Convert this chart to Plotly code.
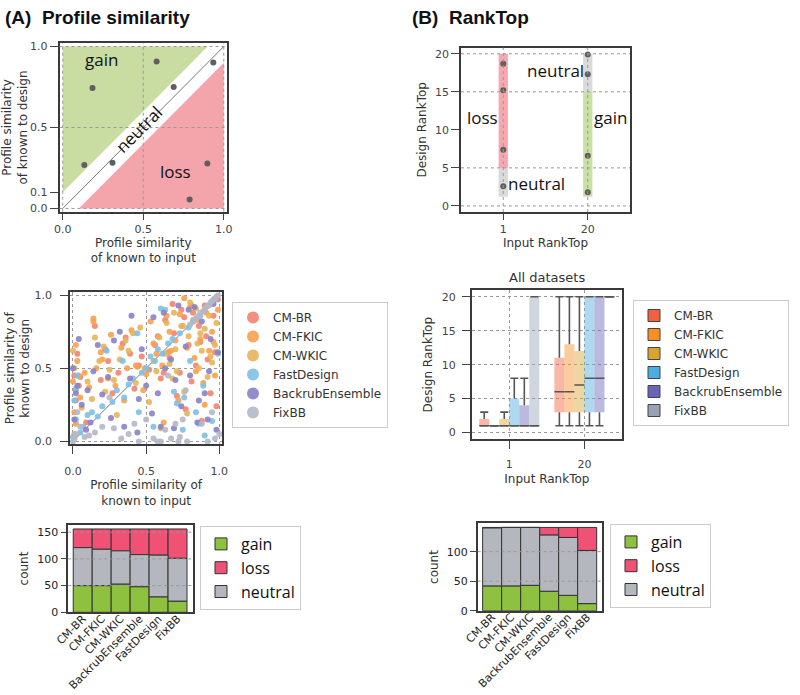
import plotly.graph_objects as go
import numpy as np

# ---- datos ----
METHODS = ["CM-BR", "CM-FKIC", "CM-WKIC", "FastDesign", "BackrubEnsemble", "FixBB"]
BAR_METHODS = ["CM-BR", "CM-FKIC", "CM-WKIC", "BackrubEnsemble", "FastDesign", "FixBB"]

# panel A arriba: ejemplo
NEUTRAL_BAND = 0.1
ex_input = [0.185, 0.583, 0.935, 0.689, 0.134, 0.309, 0.898, 0.788]
ex_design = [0.744, 0.907, 0.901, 0.750, 0.269, 0.283, 0.277, 0.055]

# panel B arriba: ejemplo
rt_region_input = ["1", "1", "20", "20"]
rt_region_kind = ["loss", "neutral", "neutral", "gain"]
rt_region_lo = [5, 1.2, 15, 1.2]
rt_region_hi = [20, 5, 20, 15]
rt_pts_input = ["1", "1", "1", "1", "20", "20", "20", "20"]
rt_pts_design = [18.7, 15.2, 7.4, 2.6, 19.9, 17.3, 6.6, 1.8]

# dispersion (similitud de perfil)
cmbr_x = [0.01, 0.02, 0.04, 0.03, 0.09, 0.15, 0.19, 0.22, 0.27, 0.31, 0.36, 0.39, 0.42, 0.47, 0.52, 0.56, 0.6, 0.63, 0.66, 0.69,
          0.71, 0.74, 0.77, 0.79, 0.82, 0.84, 0.86, 0.88, 0.9, 0.92, 0.94, 0.96, 0.98, 0.99, 0.58, 0.65, 0.73, 0.81, 0.87, 0.45,
          0.05, 0.24, 0.34, 0.76, 0.91, 0.97, 0.68, 0.62]
cmbr_y = [0.45, 0.28, 0.38, 0.6, 0.13, 0.79, 0.42, 0.63, 0.33, 0.47, 0.71, 0.6, 0.36, 0.58, 0.49, 0.66, 0.43, 0.83, 0.57, 0.74,
          0.31, 0.9, 0.22, 0.66, 0.88, 0.52, 0.79, 0.14, 0.93, 0.56, 0.33, 0.86, 0.24, 0.97, 0.72, 0.61, 0.47, 0.41, 0.68, 0.52,
          0.44, 0.55, 0.67, 0.85, 0.72, 0.61, 0.94, 0.47]
fkic_x = [0.0, 0.01, 0.03, 0.02, 0.05, 0.08, 0.11, 0.14, 0.16, 0.2, 0.24, 0.26, 0.29, 0.33, 0.37, 0.4, 0.44, 0.48, 0.5, 0.53,
          0.57, 0.61, 0.64, 0.67, 0.7, 0.72, 0.75, 0.78, 0.8, 0.83, 0.85, 0.87, 0.89, 0.91, 0.93, 0.95, 0.97, 0.99, 0.62, 0.76,
          0.84, 0.9, 0.35, 0.55, 0.14, 0.19, 0.43, 0.66, 0.73, 0.81, 0.96, 0.02]
fkic_y = [0.41, 0.2, 0.55, 0.66, 0.3, 0.47, 0.37, 0.84, 0.5, 0.56, 0.43, 0.73, 0.38, 0.64, 0.5, 0.76, 0.51, 0.35, 0.46, 0.82,
          0.6, 0.52, 0.86, 0.62, 0.69, 0.28, 0.79, 0.64, 0.92, 0.57, 0.83, 0.7, 0.4, 0.88, 0.62, 0.75, 0.45, 0.9, 0.13, 0.98,
          0.48, 0.25, 0.28, 0.67, 0.82, 0.61, 0.52, 0.75, 0.87, 0.93, 0.68, 0.12]
wkic_x = [0.0, 0.02, 0.01, 0.04, 0.06, 0.1, 0.13, 0.15, 0.18, 0.21, 0.25, 0.28, 0.32, 0.36, 0.41, 0.43, 0.46, 0.49, 0.52, 0.55,
          0.59, 0.63, 0.66, 0.69, 0.71, 0.74, 0.76, 0.79, 0.82, 0.84, 0.86, 0.88, 0.9, 0.93, 0.95, 0.97, 0.98, 0.6, 0.68, 0.78,
          0.85, 0.92, 0.3, 0.22, 0.01, 0.38, 0.57, 0.64, 0.8, 0.87, 0.94, 0.7]
wkic_y = [0.62, 0.35, 0.05, 0.45, 0.23, 0.41, 0.29, 0.71, 0.55, 0.65, 0.49, 0.42, 0.56, 0.69, 0.74, 0.4, 0.78, 0.5, 0.27, 0.55,
          0.71, 0.6, 0.53, 0.88, 0.48, 0.79, 0.34, 0.72, 0.83, 0.91, 0.5, 0.62, 0.77, 0.86, 0.54, 0.66, 0.81, 0.09, 0.43, 0.19,
          0.67, 0.44, 0.18, 0.34, 0.5, 0.62, 0.48, 0.81, 0.95, 0.74, 0.58, 0.63]
fd_x = [0.0, 0.01, 0.02, 0.03, 0.05, 0.07, 0.1, 0.13, 0.17, 0.2, 0.23, 0.27, 0.3, 0.34, 0.38, 0.41, 0.45, 0.5, 0.53, 0.56,
        0.58, 0.61, 0.63, 0.65, 0.68, 0.71, 0.73, 0.76, 0.79, 0.82, 0.84, 0.87, 0.89, 0.92, 0.95, 0.97, 0.99, 0.55, 0.75, 0.9,
        0.35, 0.44, 0.8, 0.47, 0.6, 0.86, 0.02, 0.69]
fd_y = [0.03, 0.28, 0.15, 0.45, 0.06, 0.1, 0.18, 0.2, 0.17, 0.24, 0.62, 0.27, 0.35, 0.55, 0.39, 0.43, 0.2, 0.5, 0.58, 0.55,
        0.63, 0.6, 0.9, 0.67, 0.7, 0.26, 0.74, 0.3, 0.78, 0.82, 0.2, 0.86, 0.38, 0.93, 0.14, 0.97, 0.6, 0.1, 0.08, 0.04,
        0.3, 0.74, 0.55, 0.47, 0.91, 0.12, 0.36, 0.34]
br_x = [0.0, 0.01, 0.02, 0.03, 0.04, 0.06, 0.09, 0.12, 0.14, 0.17, 0.2, 0.24, 0.28, 0.32, 0.35, 0.39, 0.4, 0.44, 0.47, 0.5,
        0.54, 0.58, 0.6, 0.63, 0.67, 0.69, 0.72, 0.74, 0.77, 0.8, 0.83, 0.85, 0.88, 0.9, 0.92, 0.94, 0.96, 0.98, 0.99, 0.7,
        0.86, 0.55, 0.26, 0.62, 0.79, 0.93, 0.45, 0.1]
br_y = [0.5, 0.15, 0.33, 0.38, 0.7, 0.25, 0.08, 0.13, 0.48, 0.66, 0.32, 0.44, 0.69, 0.75, 0.1, 0.43, 0.86, 0.06, 0.63, 0.38,
        0.19, 0.33, 0.1, 0.5, 0.56, 0.09, 0.93, 0.24, 0.65, 0.45, 0.92, 0.13, 0.82, 0.33, 0.15, 0.7, 0.94, 0.08, 0.61, 0.42,
        0.28, 0.85, 0.16, 0.88, 0.9, 0.48, 0.29, 0.35]
fx_x = [0.0, 0.01, 0.02, 0.03, 0.05, 0.08, 0.11, 0.15, 0.2, 0.28, 0.33, 0.38, 0.45, 0.5, 0.55, 0.6, 0.63, 0.67, 0.7, 0.73,
        0.75, 0.78, 0.8, 0.82, 0.84, 0.86, 0.87, 0.88, 0.89, 0.9, 0.91, 0.92, 0.93, 0.94, 0.95, 0.96, 0.97, 0.98, 0.99, 1.0,
        0.42, 0.25, 0.65, 0.77, 0.95, 0.83, 0.85, 0.97, 0.58, 0.72]
fx_y = [0.0, 0.02, 0.05, 0.2, 0.1, 0.03, 0.04, 0.06, 0.1, 0.09, 0.02, 0.05, 0.0, 0.15, 0.02, 0.0, 0.08, 0.02, 0.12, 0.03,
        0.15, 0.0, 0.8, 0.82, 0.84, 0.86, 0.88, 0.12, 0.89, 0.9, 0.92, 0.0, 0.93, 0.95, 0.96, 0.97, 0.02, 0.99, 1.0, 0.05,
        0.12, 0.3, 0.45, 0.35, 0.2, 0.83, 0.85, 0.98, 0.0, 0.0]

# cajas RankTop (orden: input "1" luego "20", metodos en orden METHODS)
box_inputs = ["1", "20"]
box_lo = [1, 1, 1, 1, 1, 1, 1, 1, 1, 1, 1, 20]
box_q1 = [1, 1, 1, 1, 1, 1, 3, 3, 3, 3, 3, 20]
box_med = [1, 1, 1, 1, 1, 1, 6, 6, 7, 8, 8, 20]
box_q3 = [2, 1, 2, 5, 4, 20, 11, 13, 12, 20, 20, 20]
box_hi = [3, 1, 3, 8, 8, 20, 20, 20, 20, 20, 20, 20]

# barras apiladas
ps_gain = [50, 50, 53, 48, 29, 21]
ps_neutral = [71, 68, 62, 60, 78, 80]
ps_loss = [35, 38, 41, 48, 49, 55]
rt_gain = [42, 42, 43, 33, 26, 12]
rt_neutral = [98, 99, 98, 95, 98, 90]
rt_loss = [1, 0, 0, 13, 17, 39]

# ---- estilos ----
SCAT_COL = {"CM-BR": "#f4836f", "CM-FKIC": "#f9a04f", "CM-WKIC": "#e5b558", "FastDesign": "#7ec0e6",
            "BackrubEnsemble": "#8882c6", "FixBB": "#b3b8c5"}
BOX_COL = {"CM-BR": "#f2603f", "CM-FKIC": "#f98e23", "CM-WKIC": "#d9a42e", "FastDesign": "#4aaee0",
           "BackrubEnsemble": "#6a64b8", "FixBB": "#97a3b3"}
KIND_COL = {"gain": "#8dc13f", "loss": "#f05276", "neutral": "#b4b7bd"}
REGION_COL = {"gain": "#a8cc6a", "loss": "#ef6f7d", "neutral": "#c2c2c2"}
FONT = "DejaVu Sans"
TXT = "Open Sans"
W, H = 800, 695


def px(x):
    return x / W


def py(y):
    return 1 - y / H


def eje(domain, rng, **kw):
    d = dict(domain=domain, range=rng, showline=True, mirror=True, linecolor="#3a3a3a", linewidth=1.6,
             ticks="outside", ticklen=6, tickwidth=1.2, tickcolor="#444", automargin=False,
             tickfont=dict(family=FONT, size=11, color="#444"), showgrid=False, zeroline=False,
             title_font=dict(family=FONT, size=12, color="#333"))
    d.update(kw)
    return d


fig = go.Figure()
shapes = []
annots = []
DOT = dict(color="#999", width=1, dash="dot")

# ---------- (A) arriba ----------
t = NEUTRAL_BAND
shapes.append(dict(type="path", xref="x", yref="y", layer="below", line_width=0, fillcolor="#c9dca1",
                   path=f"M 0,{t} L 0,1 L {1 - t},1 Z"))
shapes.append(dict(type="path", xref="x", yref="y", layer="below", line_width=0, fillcolor="#f4a5ac",
                   path=f"M {t},0 L 1,0 L 1,{1 - t} Z"))
for v in [0, 0.5, 1]:
    shapes.append(dict(type="line", xref="x", yref="y domain", x0=v, x1=v, y0=0, y1=1, layer="above", line=DOT))
    shapes.append(dict(type="line", xref="x domain", yref="y", x0=0, x1=1, y0=v, y1=v, layer="above", line=DOT))
fig.add_trace(go.Scatter(x=[0, 1], y=[0, 1], mode="lines", line=dict(color="#777", width=1),
                         xaxis="x", yaxis="y", showlegend=False, hoverinfo="skip"))
fig.add_trace(go.Scatter(x=ex_input, y=ex_design, mode="markers", marker=dict(color="#5f5f5f", size=6),
                         xaxis="x", yaxis="y", showlegend=False))
annots += [
    dict(x=0.24, y=0.92, xref="x", yref="y", text="gain", showarrow=False, font=dict(family=TXT, size=17, color="#111")),
    dict(x=0.70, y=0.23, xref="x", yref="y", text="loss", showarrow=False, font=dict(family=TXT, size=17, color="#111")),
    dict(x=0.47, y=0.49, xref="x", yref="y", text="neutral", textangle=-45, showarrow=False,
         font=dict(family=TXT, size=17, color="#111")),
]

# ---------- (B) arriba ----------
fig.add_trace(go.Bar(x=rt_region_input, base=rt_region_lo,
                     y=list(np.array(rt_region_hi) - np.array(rt_region_lo)), width=0.11,
                     marker=dict(color=[REGION_COL[k] for k in rt_region_kind], line_width=0), opacity=0.6,
                     xaxis="x2", yaxis="y2", showlegend=False))
fig.add_trace(go.Scatter(x=rt_pts_input, y=rt_pts_design, mode="markers", marker=dict(color="#5f5f5f", size=6),
                         xaxis="x2", yaxis="y2", showlegend=False))
for v in [0, 1]:
    shapes.append(dict(type="line", xref="x2", yref="y2 domain", x0=v, x1=v, y0=0, y1=1, layer="above", line=DOT))
for v in [0, 5, 15, 20]:
    shapes.append(dict(type="line", xref="x2 domain", yref="y2", x0=0, x1=1, y0=v, y1=v, layer="above", line=DOT))
annots += [
    dict(x=-0.25, y=11.6, xref="x2", yref="y2", text="loss", showarrow=False, font=dict(family=TXT, size=17, color="#111")),
    dict(x=1.27, y=11.6, xref="x2", yref="y2", text="gain", showarrow=False, font=dict(family=TXT, size=17, color="#111")),
    dict(x=0.39, y=3.0, xref="x2", yref="y2", text="neutral", showarrow=False, font=dict(family=TXT, size=17, color="#111")),
    dict(x=0.62, y=17.8, xref="x2", yref="y2", text="neutral", showarrow=False, font=dict(family=TXT, size=17, color="#111")),
]

# ---------- dispersion ----------
scat = {"CM-BR": (cmbr_x, cmbr_y), "CM-FKIC": (fkic_x, fkic_y), "CM-WKIC": (wkic_x, wkic_y),
        "FastDesign": (fd_x, fd_y), "BackrubEnsemble": (br_x, br_y), "FixBB": (fx_x, fx_y)}
fig.add_trace(go.Scatter(x=[0, 1], y=[0, 1], mode="lines", line=dict(color="#777", width=1),
                         xaxis="x3", yaxis="y3", showlegend=False, hoverinfo="skip"))
for m in METHODS:
    xs, ys = scat[m]
    fig.add_trace(go.Scatter(x=xs, y=ys, mode="markers", name=m, legend="legend",
                             marker=dict(color=SCAT_COL[m], size=6, opacity=0.9),
                             xaxis="x3", yaxis="y3"))

# ---------- cajas ----------
n = len(METHODS)
w = 0.8 / n
wx, wy = [], []
for k in range(len(box_q1)):
    i, j = divmod(k, n)
    xc = i + (j - (n - 1) / 2) * w
    m = METHODS[j]
    if box_q3[k] > box_q1[k]:
        fig.add_trace(go.Bar(x=[xc], base=[box_q1[k]], y=[box_q3[k] - box_q1[k]], width=w,
                             marker=dict(color=BOX_COL[m], line_width=0), opacity=0.45,
                             xaxis="x4", yaxis="y4", showlegend=False))
    cap = 0.4 * w
    wx += [xc, xc, None, xc, xc, None]
    wy += [box_q3[k], box_hi[k], None, box_q1[k], box_lo[k], None]
    wx += [xc - cap, xc + cap, None, xc - cap, xc + cap, None]
    wy += [box_hi[k], box_hi[k], None, box_lo[k], box_lo[k], None]
    wx += [xc - w / 2, xc + w / 2, None]
    wy += [box_med[k], box_med[k], None]
fig.add_trace(go.Scatter(x=wx, y=wy, mode="lines", line=dict(color="#555", width=1.6),
                         xaxis="x4", yaxis="y4", showlegend=False, hoverinfo="skip"))
for m in METHODS:
    fig.add_trace(go.Bar(x=[None], y=[None], name=m, legend="legend2",
                         marker=dict(color=BOX_COL[m], line=dict(color="#444", width=1)),
                         xaxis="x4", yaxis="y4"))


# ---------- barras apiladas ----------
def apiladas(gain, neutral, loss, xa, ya, leg):
    g = np.array(gain)
    nn = np.array(neutral)
    parts = [("gain", g, np.zeros_like(g)), ("loss", np.array(loss), g + nn), ("neutral", nn, g)]
    for name, vals, base in parts:
        fig.add_trace(go.Bar(x=BAR_METHODS, y=vals, base=base, width=1, name=name, legend=leg,
                             marker=dict(color=KIND_COL[name], line=dict(color="#333", width=1)),
                             xaxis=xa, yaxis=ya))


apiladas(ps_gain, ps_neutral, ps_loss, "x5", "y5", "legend3")
apiladas(rt_gain, rt_neutral, rt_loss, "x6", "y6", "legend4")
for v in [50, 100, 150]:
    shapes.append(dict(type="line", xref="x5 domain", yref="y5", x0=0, x1=1, y0=v, y1=v, layer="above", line=DOT))
for v in [50, 100]:
    shapes.append(dict(type="line", xref="x6 domain", yref="y6", x0=0, x1=1, y0=v, y1=v, layer="above", line=DOT))

# ---------- titulos ----------
annots += [
    dict(x=px(3), y=py(17), xref="paper", yref="paper", xanchor="left", yanchor="middle", showarrow=False,
         text="<b>(A)  Profile similarity</b>", font=dict(family="Liberation Sans", size=19, color="#111")),
    dict(x=px(410), y=py(17), xref="paper", yref="paper", xanchor="left", yanchor="middle", showarrow=False,
         text="<b>(B)  RankTop</b>", font=dict(family="Liberation Sans", size=19, color="#111")),
    dict(x=px(547), y=py(277), xref="paper", yref="paper", xanchor="center", yanchor="middle", showarrow=False,
         text="All datasets", font=dict(family=FONT, size=13, color="#333")),
]

leg_common = dict(xanchor="left", yanchor="top", bgcolor="white", bordercolor="#cccccc", borderwidth=1)
fig.update_layout(
    width=W, height=H, margin=dict(l=0, r=0, t=0, b=0), plot_bgcolor="white", paper_bgcolor="white",
    barmode="overlay", shapes=shapes, annotations=annots,
    xaxis=eje([px(59.5), px(227)], [-0.02, 1.02], anchor="y", tickvals=[0, 0.5, 1], ticktext=["0.0", "0.5", "1.0"],
              title=dict(text="Profile similarity<br>of known to input", standoff=3)),
    yaxis=eje([py(211.7), py(43.3)], [-0.02, 1.02], anchor="x", tickvals=[0, 0.1, 0.5, 1],
              ticktext=["0.0", "0.1", "0.5", "1.0"], ticklen=8,
              title=dict(text="Profile similarity<br>of known to design", standoff=1)),
    xaxis2=eje([px(461), px(630)], [-0.5, 1.5], anchor="y2", type="category",
               title=dict(text="Input RankTop", standoff=4)),
    yaxis2=eje([py(212), py(47.7)], [-0.8, 20.8], anchor="x2", tickvals=[0, 5, 10, 15, 20], ticklen=8,
               title=dict(text="Design RankTop", standoff=6)),
    xaxis3=eje([px(70), px(222.3)], [-0.02, 1.02], anchor="y3", tickvals=[0, 0.5, 1], ticktext=["0.0", "0.5", "1.0"],
               showgrid=True, gridcolor="#999", griddash="dot", ticklen=8, ticklabelstandoff=8,
               title=dict(text="Profile similarity of<br>known to input", standoff=3)),
    yaxis3=eje([py(444.3), py(292.3)], [-0.02, 1.02], anchor="x3", tickvals=[0, 0.5, 1], ticktext=["0.0", "0.5", "1.0"],
               showgrid=True, gridcolor="#999", griddash="dot", ticklen=8, ticklabelstandoff=6,
               title=dict(text="Profile similarity of<br>known to design", standoff=2)),
    xaxis4=eje([px(471.7), px(622)], [-0.5, 1.5], anchor="y4", tickvals=[0, 1], ticktext=box_inputs,
               showgrid=True, gridcolor="#999", griddash="dot", ticklen=8, ticklabelstandoff=6,
               title=dict(text="Input RankTop", standoff=4)),
    yaxis4=eje([py(439.3), py(290)], [-1, 21], anchor="x4", tickvals=[0, 5, 10, 15, 20],
               showgrid=True, gridcolor="#999", griddash="dot", ticklen=8, ticklabelstandoff=4,
               title=dict(text="Design RankTop", standoff=6)),
    xaxis5=eje([px(68.3), px(192.7)], [-0.76, 5.8], anchor="y5", type="category", tickangle=-45, ticks="",
               ticklabelstandoff=-6, tickfont=dict(family=FONT, size=11, color="#222")),
    yaxis5=eje([py(612.3), py(524.7)], [0, 164], anchor="x5", tickvals=[0, 50, 100, 150],
               tickfont=dict(family=FONT, size=11, color="#222"),
               title=dict(text="count", standoff=6)),
    xaxis6=eje([px(477.7), px(602)], [-0.76, 5.78], anchor="y6", type="category", tickangle=-45, ticks="",
               ticklabelstandoff=-6, tickfont=dict(family=FONT, size=11, color="#222")),
    yaxis6=eje([py(610.7), py(523.3)], [0, 148], anchor="x6", tickvals=[0, 50, 100],
               tickfont=dict(family=FONT, size=11, color="#222"),
               title=dict(text="count", standoff=6)),
    legend=dict(x=px(232), y=py(302), font=dict(family=FONT, size=12, color="#333"), itemsizing="constant",
                **leg_common),
    legend2=dict(x=px(633), y=py(300), font=dict(family=FONT, size=12, color="#333"), **leg_common),
    legend3=dict(x=px(200), y=py(526), font=dict(family=TXT, size=16, color="#111"), **leg_common),
    legend4=dict(x=px(610), y=py(524), font=dict(family=TXT, size=16, color="#111"), **leg_common),
)

# el body del html trae margen por defecto; se quita para que la figura quede en (0,0)
fig.write_html("out.html", config={"displayModeBar": False},
               post_script="document.body.style.margin='0';")
